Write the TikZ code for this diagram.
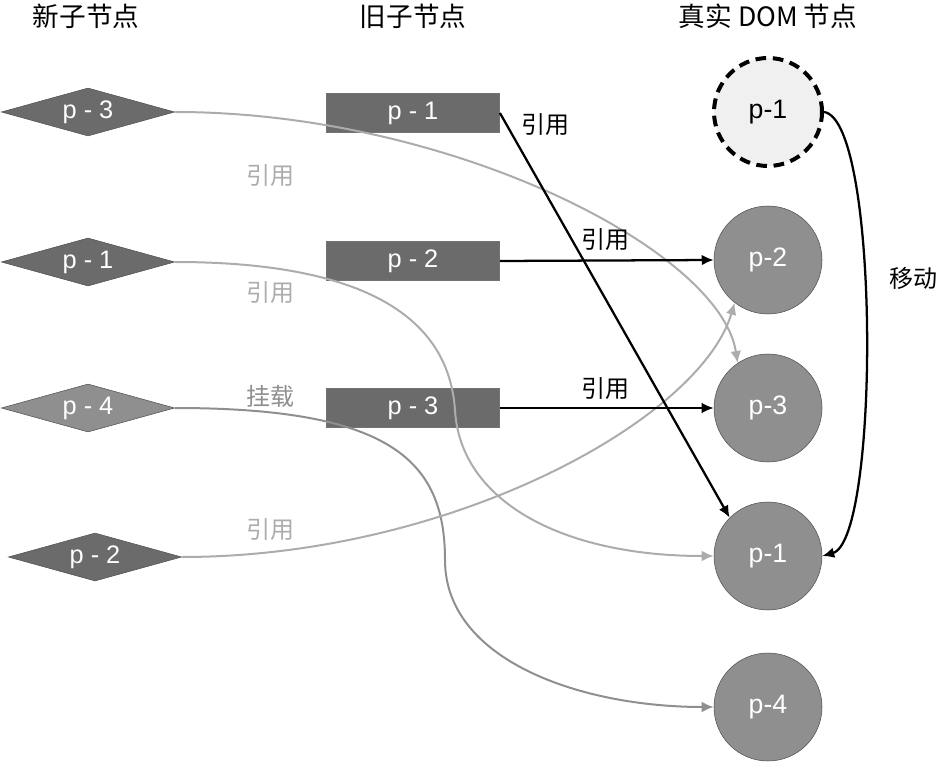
\documentclass[tikz,border=0pt]{standalone}
\usepackage{fontspec}
\setmainfont{Liberation Sans}
\newfontfamily\cjk{Noto Sans CJK SC}
\usepackage{tikz}
\usetikzlibrary{arrows.meta,shapes,positioning}
\definecolor{vdark}{RGB}{107,107,107}
\definecolor{vmid}{RGB}{143,143,143}
\definecolor{vlight}{RGB}{172,172,172}
\definecolor{vedge}{RGB}{80,80,80}
\definecolor{vghost}{RGB}{240,240,240}
\tikzstyle{newnode} = [diamond, aspect=3.6, minimum width=130pt, minimum height=36pt, inner sep=0pt, draw=vedge, fill=vdark, text=white, font=\fontsize{19}{22}\selectfont]
\tikzstyle{oldnode} = [rectangle, minimum width=130pt, minimum height=29pt, inner sep=0pt, draw=vedge!80, fill=vdark, text=white, font=\fontsize{19}{22}\selectfont]
\tikzstyle{domnode} = [circle, minimum size=81pt, inner sep=0pt, draw=vedge, fill=vmid, text=white, font=\fontsize{20}{24}\selectfont]
\tikzstyle{ghostnode} = [domnode, fill=vghost, text=black, draw=black, line width=3pt, dash pattern=on 8pt off 5pt]
\tikzstyle{arrow} = [line width=1.7pt, ->, >={Latex[length=9pt,width=8pt]}, color=black]
\tikzstyle{softarrow} = [arrow, line width=1.5pt, color=vlight]
\tikzstyle{title} = [font=\cjk\fontsize{20}{24}\selectfont]
\tikzstyle{reflabel} = [font=\cjk\fontsize{18}{22}\selectfont]

\begin{document}
\begin{tikzpicture}[x=0.75pt, y=-0.75pt]
    \useasboundingbox (0,0) rectangle (941,762);

    % Titles
    \node[title] (tnew) at (86,16) {新子节点};
    \node[title] (told) at (413,16) {旧子节点};
    \node[title] (tdom) at (768,16) {真实 DOM 节点};

    % New children
    \node[newnode] (n3) at (88,112) {p - 3};
    \node[newnode] (n1) at (88,262) {p - 1};
    \node[newnode, fill=vmid] (n4) at (88,408) {p - 4};
    \node[newnode] (n2) at (95,557) {p - 2};

    % Old children
    \node[oldnode] (o1) at (413,113) {p - 1};
    \node[oldnode] (o2) at (413,261) {p - 2};
    \node[oldnode] (o3) at (413,408) {p - 3};

    % Real DOM
    \node[ghostnode] (d1) at (768,112) {p-1};
    \node[domnode] (d2) at (768,260) {p-2};
    \node[domnode] (d3) at (768,408) {p-3};
    \node[domnode] (d1b) at (768,556) {p-1};
    \node[domnode] (d4) at (768,707) {p-4};

    % Arrows
    \draw[softarrow] (n3.east) .. controls (450,112) and (720,250) .. (d3.124);
    \draw[softarrow] (n1.east) .. controls (400,262) and (450,340) .. (455,410)
        .. controls (460,500) and (560,556) .. (d1b.west);
    \draw[softarrow, color=vmid] (n4.east) .. controls (390,408) and (445,460) .. (445,560)
        .. controls (445,660) and (580,707) .. (d4.west);
    \draw[softarrow] (n2.east) .. controls (450,557) and (700,420) .. (d2.232);
    \draw[arrow] (o1.east) -- (d1b.135);
    \draw[arrow] (o2.east) -- (d2.west);
    \draw[arrow] (o3.east) -- (d3.west);
    \draw[arrow] (d1.east) .. controls (880,120) and (880,540) .. (d1b.east);

    % Labels
    \node[reflabel, text=vlight] (l3) at (270,176) {引用};
    \node[reflabel, text=vlight] (l1) at (270,293) {引用};
    \node[reflabel, text=vmid] (l4) at (270,396) {挂载};
    \node[reflabel, text=vlight] (l2) at (270,530) {引用};
    \node[reflabel] (lo1) at (545,125) {引用};
    \node[reflabel] (lo2) at (605,240) {引用};
    \node[reflabel] (lo3) at (605,389) {引用};
    \node[reflabel] (lmove) at (913,278) {移动};
\end{tikzpicture}
\end{document}
